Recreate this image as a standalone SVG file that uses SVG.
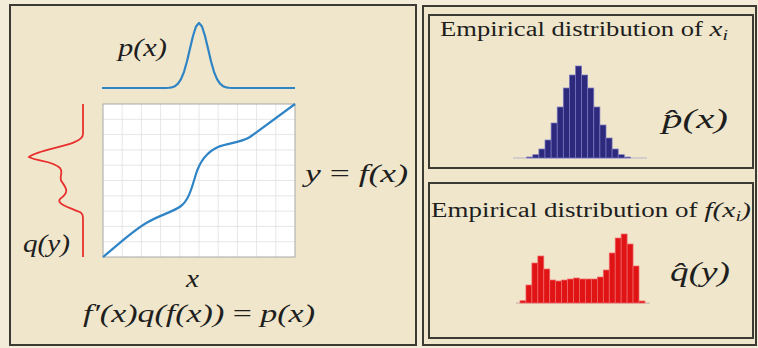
<svg xmlns="http://www.w3.org/2000/svg" width="758" height="348" viewBox="0 0 758 348">
<style>
.frame{fill:#efe6cb;stroke:#3b3a33;stroke-width:2}
.math{font-family:"Liberation Serif","DejaVu Serif",serif;font-style:italic;fill:#1e1e1e}
.rm{font-family:"Liberation Serif","DejaVu Serif",serif;font-style:normal;fill:#1e1e1e}
.grid line{stroke:#e0e0e0;stroke-width:0.8}
.bb rect{fill:#2d2a7e;stroke:#7a78c0;stroke-width:0.7}
.rb rect{fill:#e01414;stroke:#f06a6a;stroke-width:0.7}
</style>
<rect x="0" y="0" width="758" height="348" fill="#f3ecd8"/>
<g id="left-panel">
<rect class="frame" x="10" y="5" width="406" height="340"/>
<g id="plot">
<rect x="103" y="104" width="192" height="153" fill="#ffffff"/>
<g class="grid">
<line x1="122.2" y1="104" x2="122.2" y2="257"/><line x1="141.4" y1="104" x2="141.4" y2="257"/><line x1="160.6" y1="104" x2="160.6" y2="257"/><line x1="179.8" y1="104" x2="179.8" y2="257"/><line x1="199" y1="104" x2="199" y2="257"/><line x1="218.2" y1="104" x2="218.2" y2="257"/><line x1="237.4" y1="104" x2="237.4" y2="257"/><line x1="256.6" y1="104" x2="256.6" y2="257"/><line x1="275.8" y1="104" x2="275.8" y2="257"/>
<line x1="103" y1="119.3" x2="295" y2="119.3"/><line x1="103" y1="134.6" x2="295" y2="134.6"/><line x1="103" y1="149.9" x2="295" y2="149.9"/><line x1="103" y1="165.2" x2="295" y2="165.2"/><line x1="103" y1="180.5" x2="295" y2="180.5"/><line x1="103" y1="195.8" x2="295" y2="195.8"/><line x1="103" y1="211.1" x2="295" y2="211.1"/><line x1="103" y1="226.4" x2="295" y2="226.4"/><line x1="103" y1="241.7" x2="295" y2="241.7"/>
</g>
<rect x="103" y="104" width="192" height="153" fill="none" stroke="#a8a8a8" stroke-width="1"/>
<path d="M103,257 C118,245 132,231 148,222 C160,215 173,212 181,206 C189,200 192,187 196,174 C200,161 207,152 218,147 C228,143 240,143 250,137 L295,104" fill="none" stroke="#2f84c6" stroke-width="2.2"/>
</g>
<g id="px-curve">
<polyline points="102,88 166,88 169,87.75 172,87.3 175,86.2 178,83.7 181,79.2 184,71.8 187,61.3 190,48.6 193,36 196,26.5 199,23 202,26.5 205,36 208,48.6 211,61.3 214,71.8 217,79.2 220,83.7 223,86.2 226,87.3 229,87.75 232,88 295,88" fill="none" stroke="#2f84c6" stroke-width="2.2" stroke-linejoin="round"/>
<text class="math" x="118" y="56" font-size="25" textLength="49" lengthAdjust="spacingAndGlyphs">p(x)</text>
</g>
<g id="qy-curve">
<path d="M83,104 L83,134 C83,146 40,148 29,157 C38,162 52,160 60,168 C64,173 58,178 62,182 C66,188 70,192 60,199 C56,204 70,208 80,212 C83,214 83,216 83,220 L83,257" fill="none" stroke="#e8302e" stroke-width="1.8"/>
<text class="math" x="23" y="252" font-size="25" textLength="47" lengthAdjust="spacingAndGlyphs">q(y)</text>
</g>
<text class="math" x="305" y="182" font-size="25" textLength="103" lengthAdjust="spacingAndGlyphs">y <tspan class="rm">=</tspan> f(x)</text>
<text class="math" x="186" y="287" font-size="25" textLength="13" lengthAdjust="spacingAndGlyphs">x</text>
<text class="math" x="83" y="322" font-size="25" textLength="232" lengthAdjust="spacingAndGlyphs">f′(x)q(f(x)) <tspan class="rm">=</tspan> p(x)</text>
</g>
<g id="right-panel">
<rect x="423" y="6" width="333" height="339" fill="#efe6cb" stroke="#3b3a33" stroke-width="2"/>
<g id="top-box">
<rect class="frame" x="429" y="15" width="324" height="153"/>
<text class="rm" x="440" y="36" font-size="20" textLength="288" lengthAdjust="spacingAndGlyphs">Empirical distribution of <tspan class="math" font-size="22">x</tspan><tspan class="math" font-size="15" dy="4">i</tspan></text>
<line x1="513" y1="158" x2="647" y2="158" stroke="#b8b4c8" stroke-width="1"/>
<g class="bb">
<rect x="526.7" y="157" width="6.1" height="1"/>
<rect x="532.8" y="154.7" width="6.1" height="3.3"/>
<rect x="538.9" y="149" width="6.1" height="9"/>
<rect x="545" y="140" width="6.1" height="18"/>
<rect x="551.1" y="123" width="6.1" height="35"/>
<rect x="557.2" y="107" width="6.1" height="51"/>
<rect x="563.3" y="88" width="6.1" height="70"/>
<rect x="569.4" y="75" width="6.1" height="83"/>
<rect x="575.5" y="66" width="6.1" height="92"/>
<rect x="581.6" y="75" width="6.1" height="83"/>
<rect x="587.7" y="88" width="6.1" height="70"/>
<rect x="593.8" y="107" width="6.1" height="51"/>
<rect x="599.9" y="125" width="6.1" height="33"/>
<rect x="606" y="138" width="6.1" height="20"/>
<rect x="612.1" y="149" width="6.1" height="9"/>
<rect x="618.2" y="154.7" width="6.1" height="3.3"/>
<rect x="624.3" y="157" width="6.1" height="1"/>
</g>
<text class="math" x="662" y="128" font-size="28" textLength="66" lengthAdjust="spacingAndGlyphs">p̂(x)</text>
</g>
<g id="bottom-box">
<rect class="frame" x="429" y="183" width="324" height="155"/>
<text class="rm" x="431" y="217" font-size="20" textLength="320" lengthAdjust="spacingAndGlyphs">Empirical distribution of <tspan class="math" font-size="22">f(x</tspan><tspan class="math" font-size="15" dy="4">i</tspan><tspan class="math" font-size="22" dy="-4">)</tspan></text>
<line x1="516" y1="303" x2="650" y2="303" stroke="#c8a8a8" stroke-width="1"/>
<g class="rb">
<rect x="520" y="300.7" width="5.95" height="2.3"/>
<rect x="525.95" y="285" width="5.95" height="18"/>
<rect x="531.9" y="263" width="5.95" height="40"/>
<rect x="537.85" y="256" width="5.95" height="47"/>
<rect x="543.8" y="269" width="5.95" height="34"/>
<rect x="549.75" y="280" width="5.95" height="23"/>
<rect x="555.7" y="281" width="5.95" height="22"/>
<rect x="561.65" y="280" width="5.95" height="23"/>
<rect x="567.6" y="279" width="5.95" height="24"/>
<rect x="573.55" y="278" width="5.95" height="25"/>
<rect x="579.5" y="279" width="5.95" height="24"/>
<rect x="585.45" y="279" width="5.95" height="24"/>
<rect x="591.4" y="279" width="5.95" height="24"/>
<rect x="597.35" y="277" width="5.95" height="26"/>
<rect x="603.3" y="270" width="5.95" height="33"/>
<rect x="609.25" y="253" width="5.95" height="50"/>
<rect x="615.2" y="238" width="5.95" height="65"/>
<rect x="621.15" y="234" width="5.95" height="69"/>
<rect x="627.1" y="244" width="5.95" height="59"/>
<rect x="633.05" y="266" width="5.95" height="37"/>
<rect x="639" y="301" width="5.95" height="2"/>
</g>
<text class="math" x="670" y="281" font-size="28" textLength="60" lengthAdjust="spacingAndGlyphs">q̂(y)</text>
</g>
</g>
</svg>
